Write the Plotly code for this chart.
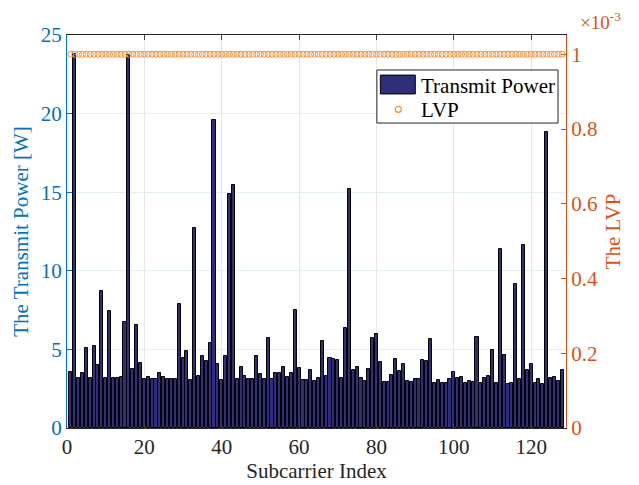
import plotly.graph_objects as go

subcarrier = list(range(1, 129))
transmit_power = [
    3.57, 23.8, 3.19, 3.51, 5.12, 3.19, 5.2, 4.02, 8.7, 3.19,
    7.43, 3.2, 3.15, 3.25, 6.75, 23.7, 3.78, 6.58, 4.15, 3.12,
    3.23, 3.12, 3.12, 3.51, 3.23, 3.12, 3.12, 3.12, 7.9, 4.44,
    4.91, 3.08, 12.75, 3.3, 4.61, 4.29, 5.42, 19.58, 4.1, 3.08,
    4.61, 14.9, 15.43, 3.13, 3.87, 3.34, 3.13, 3.13, 4.61, 3.45,
    3.13, 5.71, 3.13, 3.49, 3.47, 3.89, 3.23, 3.51, 7.49, 3.83,
    3.06, 3.06, 3.68, 3.02, 3.19, 5.52, 3.3, 4.46, 4.4, 4.32,
    3.15, 6.37, 15.2, 3.68, 3.89, 3.19, 2.98, 3.76, 5.71, 5.99,
    4.23, 2.94, 2.94, 3.36, 4.4, 3.61, 4.08, 3.02, 2.94, 3.09,
    3.09, 4.32, 4.25, 5.67, 2.89, 3.06, 2.89, 2.89, 3.13, 3.57,
    3.19, 3.26, 2.87, 3.02, 2.94, 5.82, 2.87, 3.19, 3.3, 4.95,
    2.89, 11.4, 4.63, 2.83, 2.87, 9.19, 3.13, 11.63, 3.66, 4.1,
    2.87, 3.09, 2.81, 18.82, 3.21, 3.26, 2.96, 3.72,
]
lvp = [1e-3] * 128

x_ticks = [0, 20, 40, 60, 80, 100, 120]
left_ticks = [0, 5, 10, 15, 20, 25]
right_tickvals = [0, 0.2e-3, 0.4e-3, 0.6e-3, 0.8e-3, 1e-3]
right_ticktext = ["0", "0.2", "0.4", "0.6", "0.8", "1"]
legend_labels = ["Transmit Power", "LVP"]

BLUE = "#0072BD"
ORANGE = "#D95319"
BAR_FILL = "#2E2E7C"
MARK = "#F39237"
FONT = "Liberation Serif"
FS = 21

fig = go.Figure()
fig.add_trace(go.Bar(
    x=subcarrier, y=transmit_power, name=legend_labels[0],
    width=0.8,
    marker=dict(color=BAR_FILL, line=dict(color="black", width=1)),
    yaxis="y", showlegend=False,
))
fig.add_trace(go.Scatter(
    x=subcarrier, y=lvp, name=legend_labels[1], mode="markers",
    marker=dict(symbol="circle-open", size=6, color=MARK, line=dict(width=1)),
    yaxis="y2", showlegend=False,
))

fig.update_layout(
    width=639, height=485,
    margin=dict(l=67, r=73, t=35, b=57),
    paper_bgcolor="white", plot_bgcolor="white",
    font=dict(family=FONT, size=FS, color="#262626"),
    bargap=0,
    showlegend=False,
    xaxis=dict(
        range=[0, 129], tickvals=x_ticks, ticks="inside", ticklen=5,
        showline=True, linecolor="#262626", linewidth=1, mirror="ticks",
        showgrid=True, gridcolor="#E6E6E6", gridwidth=1, zeroline=False,
        title=dict(text="Subcarrier Index", standoff=2, font=dict(size=FS)),
        tickfont=dict(size=FS, color="#262626"), automargin=False,
    ),
    yaxis=dict(
        range=[0, 25], tickvals=left_ticks, ticks="inside", ticklen=5,
        showline=True, linecolor=BLUE, linewidth=1, tickcolor=BLUE,
        showgrid=True, gridcolor="#E3EEF5", gridwidth=1, zeroline=False,
        title=dict(text="The Transmit Power [W]", font=dict(size=FS, color=BLUE), standoff=6),
        tickfont=dict(size=FS, color=BLUE), automargin=False,
    ),
    yaxis2=dict(
        range=[0, 1.0516e-3], tickvals=right_tickvals, ticktext=right_ticktext,
        overlaying="y", side="right", ticks="inside", ticklen=5,
        showline=True, linecolor=ORANGE, linewidth=1, tickcolor=ORANGE,
        showgrid=False, zeroline=False,
        title=dict(text="The LVP", font=dict(size=FS, color=ORANGE), standoff=8),
        tickfont=dict(size=FS, color=ORANGE), automargin=False,
    ),
)

# exponent label for right axis
fig.add_annotation(
    xref="paper", yref="paper", x=1.0, y=1.0, xanchor="left", yanchor="bottom",
    text="×10<sup>-3</sup>", showarrow=False, yshift=0, xshift=12,
    font=dict(family=FONT, size=19, color=ORANGE),
)

# custom legend (MATLAB style)
fig.add_shape(type="rect", xref="paper", yref="paper",
              x0=0.621, x1=0.984, y0=0.776, y1=0.911,
              line=dict(color="#262626", width=1), fillcolor="white", layer="above")
fig.add_shape(type="rect", xref="paper", yref="paper",
              x0=0.628, x1=0.698, y0=0.850, y1=0.898,
              line=dict(color="black", width=1), fillcolor=BAR_FILL, layer="above")
fig.add_shape(type="circle", xref="paper", yref="paper",
              xsizemode="pixel", ysizemode="pixel", xanchor=0.664, yanchor=0.811,
              x0=-3, x1=3, y0=-3, y1=3,
              line=dict(color=MARK, width=1.2), fillcolor="rgba(0,0,0,0)", layer="above")
fig.add_annotation(xref="paper", yref="paper", x=0.705, y=0.870,
                   xanchor="left", yanchor="middle", text=legend_labels[0],
                   showarrow=False, font=dict(family=FONT, size=FS, color="black"))
fig.add_annotation(xref="paper", yref="paper", x=0.705, y=0.809,
                   xanchor="left", yanchor="middle", text=legend_labels[1],
                   showarrow=False, font=dict(family=FONT, size=FS, color="black"))

fig.write_html("out.html")
